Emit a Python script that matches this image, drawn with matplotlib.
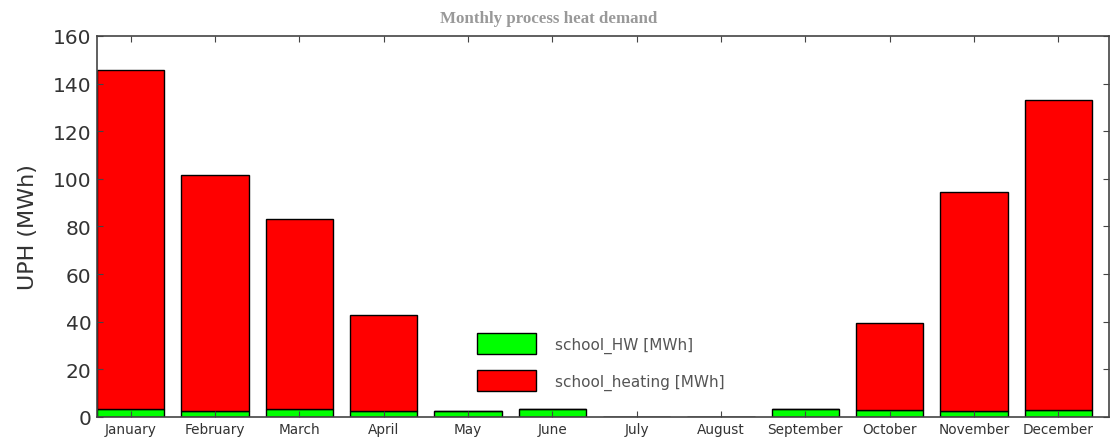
import numpy as np
import matplotlib.pyplot as plt

meses = ["January", "February", "March", "April", "May", "June", "July",
         "August", "September", "October", "November", "December"]
school_hw = [3.5, 2.5, 3.5, 2.5, 2.5, 3.5, 0.0, 0.0, 3.5, 3.0, 2.5, 3.0]
school_heating = [142.0, 99.0, 79.5, 40.5, 0.0, 0.0, 0.0, 0.0, 0.0, 36.5, 92.0, 130.0]

fig = plt.figure(figsize=(11.1, 4.39), dpi=100)
ax = fig.add_axes([0.0874, 0.048, 0.9116, 0.868])

x = np.arange(len(meses))
ax.bar(x, school_hw, width=0.8, align='edge', color='#00ff00',
       edgecolor='black', linewidth=1, label='school_HW [MWh]')
ax.bar(x, school_heating, width=0.8, align='edge', bottom=school_hw,
       color='#ff0000', edgecolor='black', linewidth=1,
       label='school_heating [MWh]')

ax.set_xlim(0, 12)
ax.set_ylim(0, 160)
ax.set_xticks(x + 0.4)
ax.set_xticklabels(meses, fontsize=9.8, color='#333333')
ax.set_yticks(np.arange(0, 161, 20))
ax.tick_params(axis='y', labelsize=14.5, labelcolor='#333333')
ax.tick_params(direction='in', top=True, right=True, length=4,
               color='#444444', pad=4)
for s in ax.spines.values():
    s.set_color('#444444')
    s.set_linewidth(1.2)

ax.set_ylabel("UPH (MWh)", fontsize=16, color='#333333', labelpad=11)
# titulo desplazado como en el original (figura recortada a la derecha)
fig.text(0.4946, 0.957, "Monthly process heat demand", fontsize=12.2,
         fontweight='bold', family='Liberation Serif', color='#999999',
         ha='center', va='center')

leg = ax.legend(loc='upper left', bbox_to_anchor=(0.376, 0.22),
                frameon=False, fontsize=11, handlelength=3.85,
                handleheight=1.75, labelspacing=1.05, handletextpad=1.2,
                borderpad=0, borderaxespad=0)
for t in leg.get_texts():
    t.set_color('#555555')

fig.savefig("out.png", dpi=100)
